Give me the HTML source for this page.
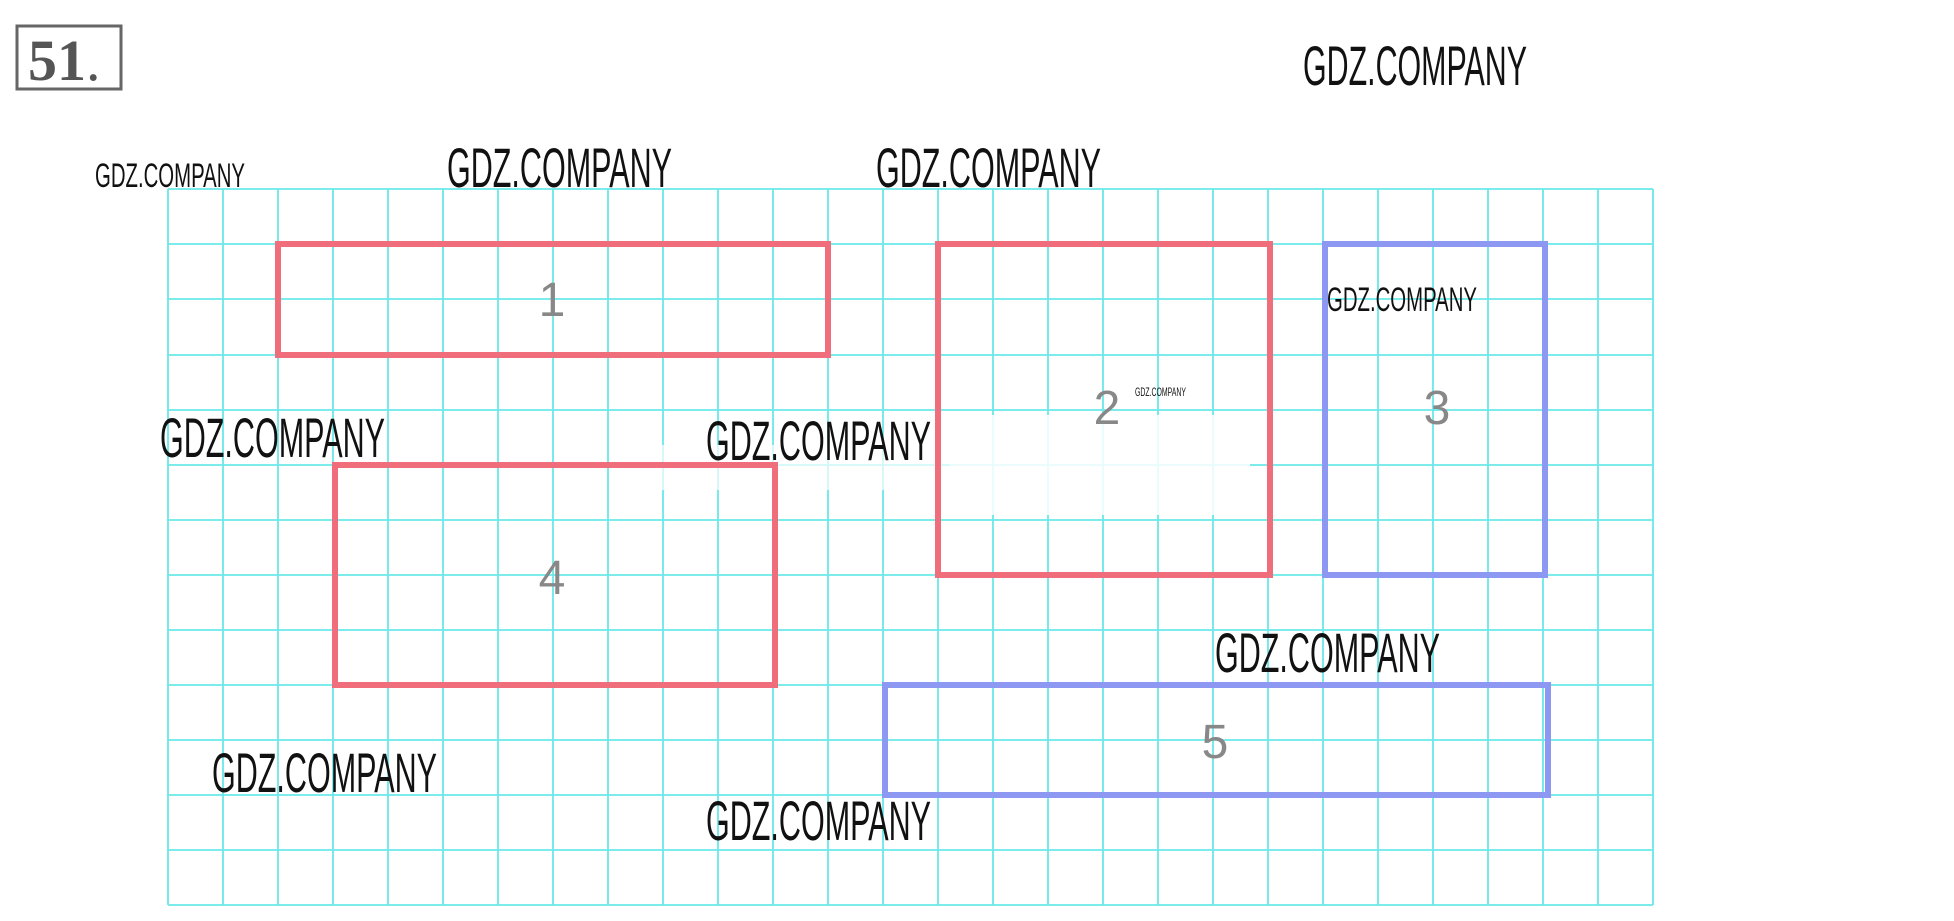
<!DOCTYPE html>
<html><head><meta charset="utf-8"><style>
html,body{margin:0;padding:0;background:#fff;}
svg{display:block;}
.wm{font-family:"Liberation Sans",sans-serif;fill:#111;}
.num{font-family:"Liberation Sans",sans-serif;fill:#888;font-size:48px;text-anchor:middle;}
</style></head><body>
<svg width="1954" height="921" viewBox="0 0 1954 921" xmlns="http://www.w3.org/2000/svg">
<rect width="1954" height="921" fill="#fff"/>
<g stroke="#45e3e3" stroke-width="1.8" opacity="0.8">
<line x1="168" y1="189" x2="168" y2="905"/><line x1="223" y1="189" x2="223" y2="905"/><line x1="278" y1="189" x2="278" y2="905"/><line x1="333" y1="189" x2="333" y2="905"/><line x1="388" y1="189" x2="388" y2="905"/><line x1="443" y1="189" x2="443" y2="905"/><line x1="498" y1="189" x2="498" y2="905"/><line x1="553" y1="189" x2="553" y2="905"/><line x1="608" y1="189" x2="608" y2="905"/><line x1="663" y1="189" x2="663" y2="905"/><line x1="718" y1="189" x2="718" y2="905"/><line x1="773" y1="189" x2="773" y2="905"/><line x1="828" y1="189" x2="828" y2="905"/><line x1="883" y1="189" x2="883" y2="905"/><line x1="938" y1="189" x2="938" y2="905"/><line x1="993" y1="189" x2="993" y2="905"/><line x1="1048" y1="189" x2="1048" y2="905"/><line x1="1103" y1="189" x2="1103" y2="905"/><line x1="1158" y1="189" x2="1158" y2="905"/><line x1="1213" y1="189" x2="1213" y2="905"/><line x1="1268" y1="189" x2="1268" y2="905"/><line x1="1323" y1="189" x2="1323" y2="905"/><line x1="1378" y1="189" x2="1378" y2="905"/><line x1="1433" y1="189" x2="1433" y2="905"/><line x1="1488" y1="189" x2="1488" y2="905"/><line x1="1543" y1="189" x2="1543" y2="905"/><line x1="1598" y1="189" x2="1598" y2="905"/><line x1="1653" y1="189" x2="1653" y2="905"/>
<line x1="168" y1="189" x2="1653" y2="189"/><line x1="168" y1="244" x2="1653" y2="244"/><line x1="168" y1="299" x2="1653" y2="299"/><line x1="168" y1="355" x2="1653" y2="355"/><line x1="168" y1="410" x2="1653" y2="410"/><line x1="168" y1="465" x2="1653" y2="465"/><line x1="168" y1="520" x2="1653" y2="520"/><line x1="168" y1="575" x2="1653" y2="575"/><line x1="168" y1="630" x2="1653" y2="630"/><line x1="168" y1="685" x2="1653" y2="685"/><line x1="168" y1="740" x2="1653" y2="740"/><line x1="168" y1="795" x2="1653" y2="795"/><line x1="168" y1="850" x2="1653" y2="850"/><line x1="168" y1="905" x2="1653" y2="905"/>
</g>
<rect x="950" y="415" width="300" height="100" fill="#fff" opacity="0.85"/>
<rect x="660" y="445" width="290" height="45" fill="#fff" opacity="0.7"/>
<g fill="none" stroke-width="6">
<rect x="278" y="244" width="550" height="111" stroke="#f06e7c"/>
<rect x="938" y="244" width="332" height="331" stroke="#f06e7c"/>
<rect x="1325" y="244" width="220" height="331" stroke="#8c98f2"/>
<rect x="335" y="465" width="440" height="220" stroke="#f06e7c"/>
<rect x="885" y="685" width="663" height="110" stroke="#8c98f2"/>
</g>
<text class="num" x="552" y="316">1</text>
<text class="num" x="1107" y="424">2</text>
<text class="num" x="1437" y="424">3</text>
<text class="num" x="552" y="594">4</text>
<text class="num" x="1215" y="758">5</text>
<rect x="17" y="26" width="104" height="63" fill="none" stroke="#666" stroke-width="3"/>
<text x="28" y="80" font-family="Liberation Serif,serif" font-weight="bold" font-size="58" fill="#555">51<tspan font-weight="normal">.</tspan></text>
<g class="wm">
<text x="1303" y="85" font-size="56" textLength="224" lengthAdjust="spacingAndGlyphs">GDZ.COMPANY</text>
<text x="95" y="187" font-size="34" textLength="150" lengthAdjust="spacingAndGlyphs">GDZ.COMPANY</text>
<text x="447" y="187" font-size="56" textLength="225" lengthAdjust="spacingAndGlyphs">GDZ.COMPANY</text>
<text x="876" y="187" font-size="56" textLength="225" lengthAdjust="spacingAndGlyphs">GDZ.COMPANY</text>
<text x="1327" y="311" font-size="34" textLength="150" lengthAdjust="spacingAndGlyphs">GDZ.COMPANY</text>
<text x="1135" y="396" font-size="12" textLength="51" lengthAdjust="spacingAndGlyphs">GDZ.COMPANY</text>
<text x="160" y="457" font-size="56" textLength="225" lengthAdjust="spacingAndGlyphs">GDZ.COMPANY</text>
<text x="706" y="460" font-size="56" textLength="225" lengthAdjust="spacingAndGlyphs">GDZ.COMPANY</text>
<text x="1215" y="672" font-size="56" textLength="225" lengthAdjust="spacingAndGlyphs">GDZ.COMPANY</text>
<text x="212" y="792" font-size="56" textLength="225" lengthAdjust="spacingAndGlyphs">GDZ.COMPANY</text>
<text x="706" y="840" font-size="56" textLength="225" lengthAdjust="spacingAndGlyphs">GDZ.COMPANY</text>
</g>
</svg>
</body></html>
